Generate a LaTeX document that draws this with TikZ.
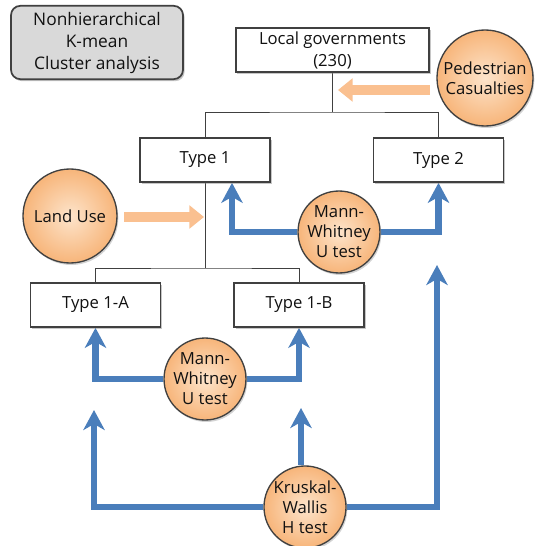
\documentclass[tikz,border=0pt]{standalone}
\usepackage{fontspec}
\setmainfont{Open Sans}
\usetikzlibrary{arrows.meta,shadows,calc}
\definecolor{peach}{HTML}{F7B57A}
\definecolor{peachl}{HTML}{FDE4CB}
\definecolor{oarrow}{HTML}{FAC090}
\definecolor{barrow}{HTML}{4A7EBB}
\definecolor{edgec}{HTML}{404040}
\definecolor{grayfill}{HTML}{D9D9D9}
\definecolor{txt}{HTML}{111111}
\pgfdeclarelayer{background}
\pgfsetlayers{background,main}
\begin{document}
\begin{tikzpicture}[x=0.75pt,y=-0.75pt,
  font=\fontsize{12.5}{15}\selectfont, text=txt,
  box/.style={draw=edgec, line width=1.3pt, fill=white, minimum width=97.5pt,
    minimum height=33pt, inner sep=0pt, align=center,
    drop shadow={shadow xshift=1.2pt,shadow yshift=-1.5pt,opacity=0.45}},
  gbox/.style={draw=edgec, line width=1.3pt, fill=grayfill, rounded corners=7pt,
    minimum width=129pt, minimum height=55pt, inner sep=0pt, align=center,
    font=\fontsize{13}{16.5}\selectfont,
    drop shadow={shadow xshift=1.2pt,shadow yshift=-1.5pt,opacity=0.45}},
  ball/.style={circle, draw=edgec, line width=1pt, inner color=peachl, outer color=peach,
    inner sep=0pt, align=center,
    drop shadow={shadow xshift=1pt,shadow yshift=-1.5pt,opacity=0.35}},
  tree/.style={draw=edgec, line width=0.7pt},
  orarr/.style={draw=oarrow, line width=7.5pt, -{Triangle[length=11pt,width=17pt]}},
  bluearr/.style={draw=barrow, line width=5pt,
    -{Stealth[length=15pt,width=16pt,inset=4.5pt]}}
]
\useasboundingbox (0,0) rectangle (536,546);

% boxes
\node[gbox] (na) at (97,42.5) {Nonhierarchical\\K-mean\\Cluster analysis};
\node[box, minimum width=145pt, font=\fontsize{12.5}{16.5}\selectfont] (lg) at (332.5,50) {Local governments\\(230)};
\node[box] (t1) at (205,160) {Type 1};
\node[box] (t2) at (438.5,160) {Type 2};
\node[box] (ta) at (95.5,305) {Type 1-A};
\node[box] (tb) at (299,305) {Type 1-B};

% circles
\node[ball, minimum size=72pt] (ped) at (485,78) {Pedestrian\\Casualties};
\node[ball, minimum size=70.5pt] (lu) at (70,216) {Land Use};
\node[ball, minimum size=57pt] (mw1) at (339,232) {Mann-\\Whitney\\U test};
\node[ball, minimum size=57pt] (mw2) at (205,379) {Mann-\\Whitney\\U test};
\node[ball, minimum size=57pt] (kw) at (305,507) {Kruskal-\\Wallis\\H test};

% coordinates
\coordinate (j1) at (332.5,112);
\coordinate (j2) at (205,268);
\coordinate (pa) at (338,90);
\coordinate (la) at (204,217);
\coordinate (b1) at (232,0);
\coordinate (k1) at (301,408);
\coordinate (k2) at (94,410);
\coordinate (k3) at (437,265);

\begin{pgfonlayer}{background}
% tree lines
\draw[tree] (lg.south) -- (j1);
\draw[tree] (t1.north) |- (j1) -| (t2.north);
\draw[tree] (t1.south) -- (j2);
\draw[tree] (ta.north) |- (j2) -| (tb.north);

% orange arrows
\draw[orarr, shorten <=5pt] (pa -| ped.west) -- (pa);
\draw[orarr, shorten <=5pt] (lu.east |- la) -- (la);

% blue arrows
\draw[bluearr] (mw1.west) -| (t1.south -| b1);
\draw[bluearr] (mw1.east) -| (t2.south);
\draw[bluearr] (mw2.west) -| (ta.south);
\draw[bluearr] (mw2.east) -| (tb.south);
\draw[bluearr] (kw.north -| k1) -- (k1);
\draw[bluearr] (kw.west) -| (k2);
\draw[bluearr] (kw.east) -| (k3);
\end{pgfonlayer}
\end{tikzpicture}
\end{document}
